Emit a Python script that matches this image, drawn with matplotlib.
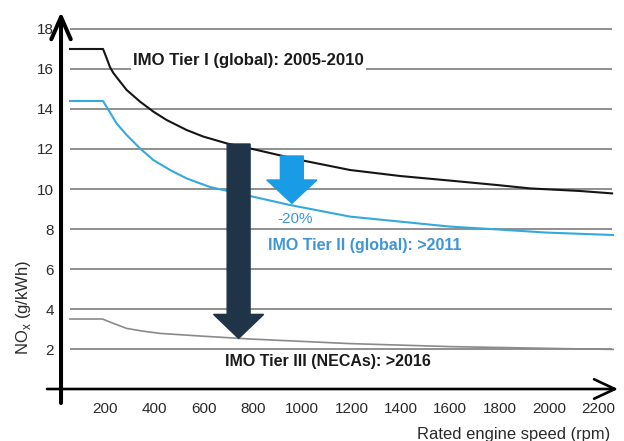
import matplotlib
matplotlib.use("Agg")
import matplotlib.pyplot as plt
from matplotlib.patches import FancyArrow

plt.rcParams['font.family'] = ['Liberation Sans', 'DejaVu Sans']

# values
tier1_rpm = [58, 192, 205, 220, 234, 261, 288, 342, 396, 450, 531, 599, 694, 788, 992, 1194,
             1397, 1600, 1789, 1924, 2127, 2257]
tier1_nox = [17.0, 17.0, 16.6, 16.1, 15.8, 15.37, 14.95, 14.37, 13.87, 13.45, 12.95, 12.62, 12.28,
             12.03, 11.45, 10.95, 10.65, 10.42, 10.2, 10.03, 9.9, 9.78]

tier2_rpm = [58, 192, 207, 247, 288, 342, 396, 464, 531, 626, 788, 950, 1194, 1397, 1600, 1789,
             1992, 2261]
tier2_nox = [14.4, 14.4, 14.1, 13.28, 12.7, 12.03, 11.45, 10.95, 10.53, 10.1, 9.65, 9.2, 8.62,
             8.37, 8.12, 7.98, 7.82, 7.7]

tier3_rpm = [58, 190, 230, 288, 350, 423, 585, 788, 1194, 1600, 2006, 2261]
tier3_nox = [3.5, 3.5, 3.3, 3.03, 2.9, 2.78, 2.65, 2.5, 2.27, 2.12, 2.03, 1.98]

x_ticks = [200, 400, 600, 800, 1000, 1200, 1400, 1600, 1800, 2000, 2200]
y_ticks = [2, 4, 6, 8, 10, 12, 14, 16, 18]

label_tier1 = "IMO Tier I (global): 2005-2010"
label_tier2 = "IMO Tier II (global): >2011"
label_tier3 = "IMO Tier III (NECAs): >2016"
label_cut = "-20%"

BLUE = "#35a9dc"
BLUE_TXT = "#3f95da"
ARROW_BLUE = "#1a9be6"
NAVY = "#1f3547"

fig = plt.figure(figsize=(6.24, 4.41), dpi=100)
ax = fig.add_axes([0.0978, 0.1179, 0.8958, 0.8549])
ax.set_xlim(21.7, 2289)
ax.set_ylim(0, 18.85)

for s in ax.spines.values():
    s.set_visible(False)

# grid lines
ax.hlines(y_ticks, 58, 2257, colors="#8f8f8f", lw=1.4, zorder=1)

ax.plot(tier1_rpm, tier1_nox, color="#151515", lw=1.5, zorder=3)
ax.plot(tier2_rpm, tier2_nox, color=BLUE, lw=1.5, zorder=3)
ax.plot(tier3_rpm, tier3_nox, color="#8a8a8a", lw=1.2, zorder=3)

# axis arrows
ax.annotate("", xy=(21.7, 18.85), xytext=(21.7, -0.7), annotation_clip=False,
            arrowprops=dict(arrowstyle="->,head_length=0.8,head_width=0.35", lw=2.9,
                            color="black", shrinkA=0, shrinkB=0, mutation_scale=20))
ax.annotate("", xy=(2281, 0), xytext=(-35, 0), annotation_clip=False,
            arrowprops=dict(arrowstyle="->,head_length=0.75,head_width=0.35", lw=1.9,
                            color="black", shrinkA=0, shrinkB=0, mutation_scale=20))

# reduction arrows
ax.add_patch(FancyArrow(742, 12.25, 0, 2.53 - 12.25, width=93, head_width=203,
                        head_length=1.2, length_includes_head=True,
                        color=NAVY, zorder=4))
ax.add_patch(FancyArrow(958, 11.65, 0, 9.28 - 11.65, width=93, head_width=203,
                        head_length=1.17, length_includes_head=True,
                        color=ARROW_BLUE, zorder=4))

ax.text(314, 16.2, label_tier1, fontsize=12.1, fontweight="bold", color="#1a1a1a",
        va="baseline", ha="left", zorder=5,
        bbox=dict(facecolor="white", edgecolor="none", pad=1.5))
ax.text(862, 6.93, label_tier2, fontsize=11.5, fontweight="bold", color=BLUE_TXT,
        va="baseline", ha="left", zorder=5)
ax.text(687, 1.15, label_tier3, fontsize=11.5, fontweight="bold", color="#1a1a1a",
        va="baseline", ha="left", zorder=5)
ax.text(898, 8.28, label_cut, fontsize=11, color=BLUE_TXT,
        va="baseline", ha="left", zorder=5)

ax.set_xticks(x_ticks)
ax.set_yticks(y_ticks)
ax.tick_params(axis="both", length=0, labelsize=11, labelcolor="#2a2a2a")
ax.tick_params(axis="x", pad=9)
ax.tick_params(axis="y", pad=5)

ax.set_ylabel(r"NO$_{\mathregular{x}}$ (g/kWh)", fontsize=12, color="#2a2a2a")
ax.yaxis.set_label_coords(-0.05, 0.2175)
ax.set_xlabel("Rated engine speed (rpm)", fontsize=11.9, color="#2a2a2a", loc="right")
ax.xaxis.set_label_coords(0.982, -0.12)
ax.xaxis.label.set_va("center")

fig.savefig("out.png", dpi=100)
